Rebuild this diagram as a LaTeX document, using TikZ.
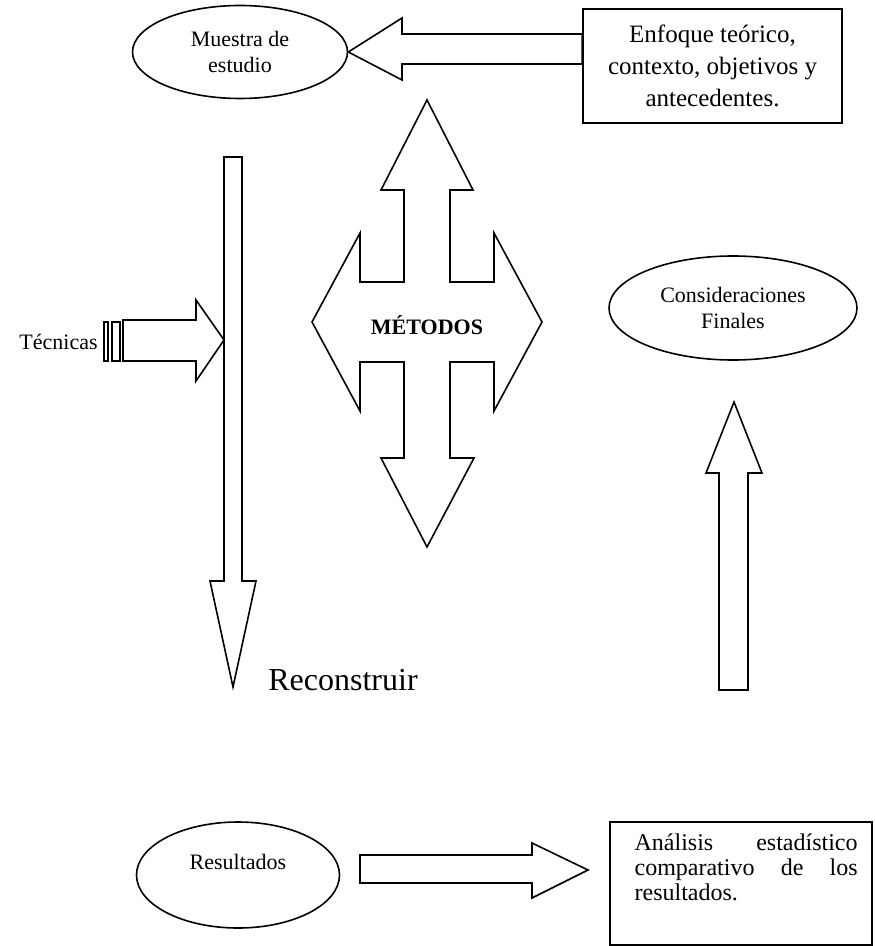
\documentclass[tikz,border=0pt]{standalone}
\usepackage{fontspec}
\setmainfont{Liberation Serif}
\usetikzlibrary{shapes.geometric}

\begin{document}
\begin{tikzpicture}[x=0.5pt, y=-0.5pt,
    oval/.style={draw, ellipse, line width=0.8pt, inner sep=0pt, align=center,
        font=\fontsize{11}{13}\selectfont},
    frame/.style={draw, rectangle, line width=0.8pt, inner sep=0pt},
    blockarrow/.style={draw, line width=0.8pt, line join=miter, fill=white}]
    \useasboundingbox (0,0) rectangle (874,946);

    % ellipses and boxes
    \node[oval, minimum width=107.5pt, minimum height=46.5pt] (muestra) at (240,52)
        {Muestra de\\estudio};
    \node[frame, minimum width=129.5pt, minimum height=57pt, align=center,
        font=\fontsize{12.5}{16}\selectfont] (enfoque) at (712.5,66)
        {Enfoque teórico,\\contexto, objetivos y\\antecedentes.};
    \node[oval, minimum width=124pt, minimum height=52pt] (consideraciones) at (733,308)
        {Consideraciones\\Finales};
    \node[oval, minimum width=101.5pt, minimum height=53pt] (resultados) at (238,875)
        {Resultados\\\mbox{}};
    \node[frame, minimum width=131pt, minimum height=61.5pt] (analisis) at (741,883.5) {};
    \node[anchor=north west, inner sep=0pt, text width=111.5pt, align=left,
        font=\fontsize{12}{12.6}\selectfont] (analisistxt)
        at ([shift={(25,12)}]analisis.north west)
        {Análisis\hfill estadístico\\comparativo\hfill de\hfill los\\resultados.};

    % Enfoque -> Muestra
    \draw[blockarrow] (muestra.east) -- (402,18) -- (402,34) -- (enfoque.west |- 0,34)
        -- (enfoque.west |- 0,64) -- (402,64) -- (402,80) -- cycle;

    % metodos
    \draw[blockarrow] (427,100) -- (473,190) -- (450,190) -- (450,282) -- (494,282)
        -- (494,233) -- (542,322) -- (494,411) -- (494,362) -- (450,362) -- (450,458)
        -- (474,458) -- (427,547) -- (381,458) -- (404,458) -- (404,362) -- (360,362)
        -- (360,411) -- (312,322) -- (360,233) -- (360,282) -- (404,282) -- (404,190)
        -- (381,190) -- cycle;
    \node[font=\bfseries\fontsize{11}{13}\selectfont] (metodos) at (427,325) {MÉTODOS};

    % reconstruir
    \draw[blockarrow] (224,157) -- (242,157) -- (242,581) -- (256,581) -- (233,687)
        -- (210,581) -- (224,581) -- cycle;
    \node[font=\fontsize{16}{19}\selectfont] (reconstruir) at (343,680) {Reconstruir};

    % tecnicas
    \node[anchor=east, inner sep=0pt, font=\fontsize{11}{13}\selectfont] (tecnicas)
        at (98,342) {Técnicas};
    \draw[line width=0.8pt] (104,322) rectangle (108,361);
    \draw[line width=0.8pt] (112,322) rectangle (120,361);
    \draw[blockarrow] (123,320) -- (196,320) -- (196,300) -- (224,340) -- (196,381)
        -- (196,361) -- (123,361) -- cycle;

    % hacia consideraciones
    \draw[blockarrow] (719,690) -- (719,473) -- (706,473) -- (734,402) -- (762,473)
        -- (748,473) -- (748,690) -- cycle;

    % resultados -> analisis
    \draw[blockarrow] (360,855) -- (532,855) -- (532,843) -- (588,870) -- (532,898)
        -- (532,883) -- (360,883) -- cycle;
\end{tikzpicture}
\end{document}
